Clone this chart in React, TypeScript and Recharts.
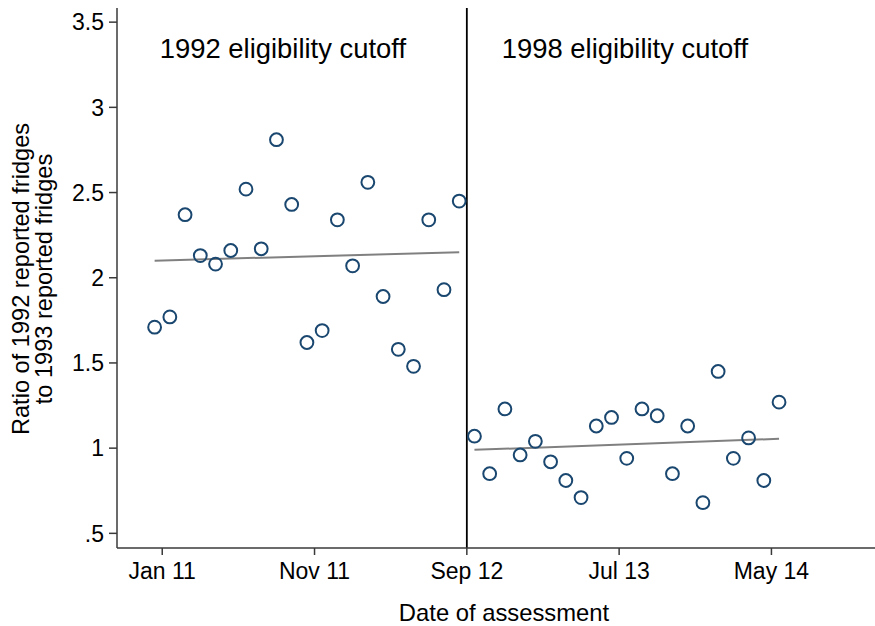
import React from "react";
import { ReferenceLine, Scatter, ScatterChart, XAxis, YAxis } from "recharts";

// month index, 0 = Jan 2011
const leftMonths = [-0.5, 0.5, 1.5, 2.5, 3.5, 4.5, 5.5, 6.5, 7.5, 8.5, 9.5, 10.5, 11.5, 12.5, 13.5, 14.5, 15.5, 16.5, 17.5, 18.5, 19.5];
const leftRatio = [1.71, 1.77, 2.37, 2.13, 2.08, 2.16, 2.52, 2.17, 2.81, 2.43, 1.62, 1.69, 2.34, 2.07, 2.56, 1.89, 1.58, 1.48, 2.34, 1.93, 2.45];

const rightMonths = [20.5, 21.5, 22.5, 23.5, 24.5, 25.5, 26.5, 27.5, 28.5, 29.5, 30.5, 31.5, 32.5, 33.5, 34.5, 35.5, 36.5, 37.5, 38.5, 39.5, 40.5];
const rightRatio = [1.07, 0.85, 1.23, 0.96, 1.04, 0.92, 0.81, 0.71, 1.13, 1.18, 0.94, 1.23, 1.19, 0.85, 1.13, 0.68, 1.45, 0.94, 1.06, 0.81, 1.27];

const fitLeftMonths = [-0.5, 19.5];
const fitLeftValues = [2.1, 2.15];
const fitRightMonths = [20.5, 40.5];
const fitRightValues = [0.99, 1.055];

const xTicks = [0, 10, 20, 30, 40];
const xTickLabels = ["Jan 11", "Nov 11", "Sep 12", "Jul 13", "May 14"];
const yTicks = [0.5, 1, 1.5, 2, 2.5, 3, 3.5];
const yTickLabels = [".5", "1", "1.5", "2", "2.5", "3", "3.5"];

const cutoffMonth = 20;
const annotations = ["1992 eligibility cutoff", "1998 eligibility cutoff"];

const toPoints = (xs: number[], ys: number[]) => xs.map((m, i) => ({ m, v: ys[i] }));

const leftData = toPoints(leftMonths, leftRatio);
const rightData = toPoints(rightMonths, rightRatio);
const fitLeft = toPoints(fitLeftMonths, fitLeftValues);
const fitRight = toPoints(fitRightMonths, fitRightValues);

const FONT = '"Liberation Sans", Arial, sans-serif';
const NAVY = "#1a476f";
const AXIS = "#3a3a3a";

const Hollow = (props: any) => (
  <circle cx={props.cx} cy={props.cy} r={6.4} fill="none" stroke={NAVY} strokeWidth={2} />
);
const NoDot = () => <g />;

export default function App() {
  return (
    <div style={{ position: "absolute", left: 0, top: 0, width: 875, height: 626, background: "#fff", fontFamily: FONT }}>
      <ScatterChart width={875} height={626} margin={{ top: 8, right: 0, bottom: 0, left: 0 }}>
        <XAxis
          type="number"
          dataKey="m"
          domain={[-2.97, 46.8]}
          ticks={xTicks}
          tickFormatter={(t: number) => xTickLabels[xTicks.indexOf(t)] ?? ""}
          height={78}
          tickSize={7}
          tickMargin={8}
          stroke={AXIS}
          strokeWidth={1.5}
          tick={{ fill: "#000", fontSize: 23, fontFamily: FONT }}
          allowDataOverflow
          label={{
            content: () => (
              <text x={504} y={621} textAnchor="middle" fontSize={23.8} fontFamily={FONT} fill="#000">
                Date of assessment
              </text>
            ),
          }}
        />
        <YAxis
          type="number"
          dataKey="v"
          domain={[0.414, 3.583]}
          ticks={yTicks}
          tickFormatter={(t: number) => yTickLabels[yTicks.indexOf(t)] ?? ""}
          width={117}
          tickSize={8}
          tickMargin={5}
          stroke={AXIS}
          strokeWidth={1.5}
          tick={{ fill: "#000", fontSize: 23, fontFamily: FONT }}
          allowDataOverflow
          label={{
            content: () => (
              <text transform="translate(0,279) rotate(-90)" textAnchor="middle" fontSize={23.6} fontFamily={FONT} fill="#000">
                <tspan x={0} y={28.5}>Ratio of 1992 reported fridges</tspan>
                <tspan x={0} y={52}>to 1993 reported fridges</tspan>
              </text>
            ),
          }}
        />
        <ReferenceLine
          x={cutoffMonth}
          stroke="#000"
          strokeWidth={1.8}
          label={{
            content: (p: any) => {
              const vx = p.viewBox?.x ?? 466;
              return (
                <g fontFamily={FONT} fontSize={27.4} fill="#000">
                  <text x={vx - 307} y={58}>{annotations[0]}</text>
                  <text x={vx + 35} y={58}>{annotations[1]}</text>
                </g>
              );
            },
          }}
        />
        <Scatter data={fitLeft} isAnimationActive={false} line={{ stroke: "#808080", strokeWidth: 2 }} shape={NoDot} legendType="none" />
        <Scatter data={fitRight} isAnimationActive={false} line={{ stroke: "#808080", strokeWidth: 2 }} shape={NoDot} legendType="none" />
        <Scatter data={leftData} isAnimationActive={false} shape={Hollow} legendType="none" />
        <Scatter data={rightData} isAnimationActive={false} shape={Hollow} legendType="none" />
      </ScatterChart>
    </div>
  );
}
